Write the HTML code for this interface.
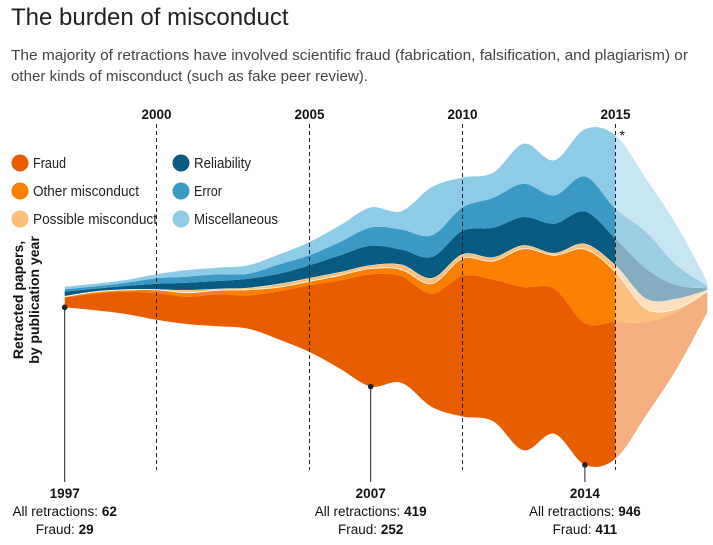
<!DOCTYPE html>
<html><head><meta charset="utf-8">
<style>
html,body{margin:0;padding:0;background:#fff;width:713px;height:545px;overflow:hidden;font-family:"Liberation Sans",sans-serif;}
svg text{font-family:"Liberation Sans",sans-serif;}
</style></head><body>
<svg id="chart" width="713" height="545" viewBox="0 0 713 545" xmlns="http://www.w3.org/2000/svg">
<text x="11" y="25" font-size="24" fill="#222">The burden of misconduct</text>
<text x="11" y="60" font-size="14.3" fill="#444" textLength="677" lengthAdjust="spacingAndGlyphs">The majority of retractions have involved scientific fraud (fabrication, falsification, and plagiarism) or</text>
<text x="11" y="81" font-size="14.3" fill="#444" textLength="357" lengthAdjust="spacingAndGlyphs">other kinds of misconduct (such as fake peer review).</text>
<g id="layers"></g>
<rect x="615" y="100" width="100" height="380" fill="#fff" opacity="0.5"></rect>
<g id="grid"></g>
<g id="annot"></g>
<g id="legend"></g>
<text transform="translate(23,300) rotate(-90)" text-anchor="middle" font-size="14" font-weight="bold" fill="#111"><tspan x="0" dy="0">Retracted papers,</tspan><tspan x="0" dy="16">by publication year</tspan></text>
</svg>
<script>
const years = [1997,1998,1999,2000,2001,2002,2003,2004,2005,2006,2007,2008,2009,2010,2011,2012,2013,2014,2015,2016,2017,2018];
const fraud = [30,50,67,80,82,96,100,145,200,265,337,320,340,422,425,490,435,425,410,280,170,60];
const otherMisconduct = [2,5,5,10,12,12,17,12,12,15,17,20,30,52,55,115,100,222,150,40,10,3];
const possibleMisconduct = [2,2,2,2,8,5,6,10,10,10,10,15,17,13,12,10,7,16,20,30,30,4];
const reliability = [13,8,10,16,22,23,27,30,38,50,58,45,63,70,88,85,88,97,80,90,40,5];
const errorVals = [7,7,10,17,18,20,15,28,30,40,55,60,65,70,90,100,85,105,90,110,60,8];
const miscellaneous = [8,8,8,12,20,20,25,30,40,50,60,55,145,90,75,120,105,142,220,160,120,12];
const layerNames = ["Fraud","Other misconduct","Possible misconduct","Reliability","Error","Miscellaneous"];
const gridYears = [2000,2005,2010,2015];
const annotYears = [1997,2007,2014];
const annotTotals = [62,419,946];
const annotFraud = [29,252,411];

const colors = ["#e85d00","#fb7f00","#fdbf7a","#085a80","#3a9ac4","#8ecbe6"];
const legendWidths = [33,106,124,57,28,84];
const series = [fraud,otherMisconduct,possibleMisconduct,reliability,errorVals,miscellaneous];
const NS = "http://www.w3.org/2000/svg";
const x = y => 64.7 + (y - 1997) * 30.6;
const k = 1/3, centerY = 297;
const v = n => n * k;

const totals = years.map((_, i) => series.reduce((s, a) => s + a[i], 0));
const bottoms = years.map((_, i) => centerY + v(totals[i]) / 2);

function smooth(pts) {
  let d = "";
  for (let i = 0; i < pts.length - 1; i++) {
    const p0 = pts[Math.max(0, i - 1)], p1 = pts[i], p2 = pts[i + 1], p3 = pts[Math.min(pts.length - 1, i + 2)];
    const c1 = [p1[0] + (p2[0] - p0[0]) / 6, p1[1] + (p2[1] - p0[1]) / 6];
    const c2 = [p2[0] - (p3[0] - p1[0]) / 6, p2[1] - (p3[1] - p1[1]) / 6];
    d += ` C${c1[0].toFixed(1)},${c1[1].toFixed(1)} ${c2[0].toFixed(1)},${c2[1].toFixed(1)} ${p2[0].toFixed(1)},${p2[1].toFixed(1)}`;
  }
  return d;
}

const layersG = document.getElementById("layers");
let cum = years.map(() => 0);
series.forEach((arr, li) => {
  const lower = years.map((yr, i) => [x(yr), bottoms[i] - v(cum[i])]);
  const upperCum = cum.map((c, i) => c + arr[i]);
  const upper = years.map((yr, i) => [x(yr), bottoms[i] - v(upperCum[i])]);
  const rl = lower.slice().reverse();
  const d = `M${upper[0][0]},${upper[0][1]}` + smooth(upper) + ` L${rl[0][0]},${rl[0][1]}` + smooth(rl) + "Z";
  const p = document.createElementNS(NS, "path");
  p.setAttribute("d", d);
  p.setAttribute("fill", colors[li]);
  if (li === 2) { p.setAttribute("stroke", "#fff"); p.setAttribute("stroke-width", "0.8"); }
  
  
  layersG.appendChild(p);
  cum = upperCum;
});

const gridG = document.getElementById("grid");
gridYears.forEach(yr => {
  const l = document.createElementNS(NS, "line");
  l.setAttribute("x1", x(yr)); l.setAttribute("x2", x(yr));
  l.setAttribute("y1", 124); l.setAttribute("y2", 470);
  l.setAttribute("stroke", "#222"); l.setAttribute("stroke-width", "1"); l.setAttribute("stroke-dasharray", "4,3");
  
  
  gridG.appendChild(l);
  const t = document.createElementNS(NS, "text");
  t.setAttribute("x", x(yr)); t.setAttribute("y", 119); t.setAttribute("text-anchor", "middle");
  t.setAttribute("font-size", "14"); t.setAttribute("font-weight", "bold"); t.setAttribute("fill", "#111");
  t.setAttribute("textLength", "30"); t.setAttribute("lengthAdjust", "spacingAndGlyphs");
  t.textContent = yr;
  
  
  gridG.appendChild(t);
});
const star = document.createElementNS(NS, "text");
star.setAttribute("x", x(2015) + 4); star.setAttribute("y", 140); star.setAttribute("font-size", "14"); star.setAttribute("fill", "#111");
star.textContent = "*";


gridG.appendChild(star);

const annotG = document.getElementById("annot");
annotYears.forEach((yr, j) => {
  const i = years.indexOf(yr);
  const by = bottoms[i];
  const l = document.createElementNS(NS, "line");
  l.setAttribute("x1", x(yr)); l.setAttribute("x2", x(yr)); l.setAttribute("y1", by); l.setAttribute("y2", 482);
  l.setAttribute("stroke", "#222"); l.setAttribute("stroke-width", "1");
  
  
  annotG.appendChild(l);
  const c = document.createElementNS(NS, "circle");
  c.setAttribute("cx", x(yr)); c.setAttribute("cy", by); c.setAttribute("r", 2.8); c.setAttribute("fill", "#222");
  
  
  annotG.appendChild(c);
  const t = document.createElementNS(NS, "text");
  t.setAttribute("x", x(yr)); t.setAttribute("text-anchor", "middle"); t.setAttribute("font-size", "13.5"); t.setAttribute("fill", "#111");
  t.innerHTML = `<tspan x="${x(yr)}" y="498" font-weight="bold">${yr}</tspan><tspan x="${x(yr)}" y="516">All retractions: <tspan font-weight="bold">${annotTotals[j]}</tspan></tspan><tspan x="${x(yr)}" y="534">Fraud: <tspan font-weight="bold">${annotFraud[j]}</tspan></tspan>`;
  
  
  annotG.appendChild(t);
});

const legG = document.getElementById("legend");
layerNames.forEach((n, li) => {
  const col = li < 3 ? 0 : 1, row = li % 3;
  const cx = col ? 181 : 20, cy = 163 + row * 28;
  const c = document.createElementNS(NS, "circle");
  c.setAttribute("cx", cx); c.setAttribute("cy", cy); c.setAttribute("r", 8.5); c.setAttribute("fill", colors[li]);
  
  
  legG.appendChild(c);
  const t = document.createElementNS(NS, "text");
  t.setAttribute("x", cx + 13); t.setAttribute("y", cy + 5); t.setAttribute("font-size", "15"); t.setAttribute("fill", "#222");
  t.setAttribute("textLength", legendWidths[li]); t.setAttribute("lengthAdjust", "spacingAndGlyphs");
  t.textContent = n;
  
  
  legG.appendChild(t);
});
</script>
</body></html>
